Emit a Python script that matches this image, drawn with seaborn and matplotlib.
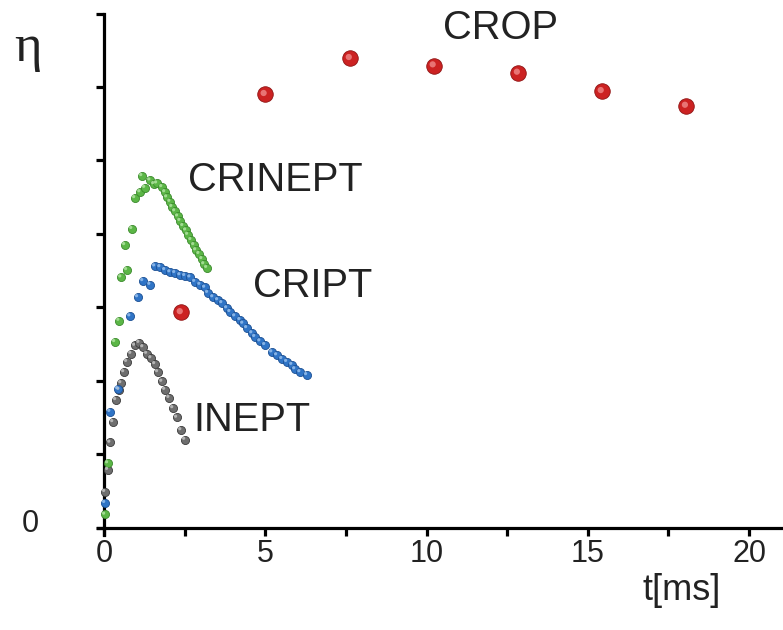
import numpy as np
import pandas as pd
import seaborn as sns
import matplotlib.pyplot as plt
from matplotlib.transforms import ScaledTranslation

# t in ms, eta in tick units (0..7)
inept_t = [0.03, 0.12, 0.19, 0.28, 0.37, 0.47, 0.53, 0.62, 0.71, 0.84, 0.96, 1.09,
           1.21, 1.33, 1.46, 1.58, 1.67, 1.80, 1.89, 2.02, 2.14, 2.26, 2.39, 2.51]
inept_eta = [0.49, 0.79, 1.16, 1.44, 1.74, 1.88, 1.97, 2.12, 2.26, 2.37, 2.48, 2.52,
             2.46, 2.37, 2.31, 2.23, 2.12, 1.99, 1.88, 1.77, 1.63, 1.50, 1.33, 1.20]

cript_t = [0.03, 0.19, 0.43, 0.81, 1.05, 1.21, 1.43, 1.58, 1.74, 1.89, 2.05, 2.20,
           2.36, 2.51, 2.67, 2.82, 2.98, 3.13, 3.22, 3.38, 3.53, 3.66, 3.81, 3.91,
           4.06, 4.22, 4.31, 4.43, 4.59, 4.68, 4.84, 4.99, 5.21, 5.36, 5.52, 5.67,
           5.83, 5.92, 6.08, 6.29]
cript_eta = [0.34, 1.58, 1.89, 2.88, 3.14, 3.36, 3.31, 3.56, 3.55, 3.51, 3.48, 3.47,
             3.44, 3.43, 3.41, 3.35, 3.31, 3.27, 3.20, 3.14, 3.10, 3.06, 2.99, 2.94,
             2.88, 2.83, 2.78, 2.72, 2.65, 2.60, 2.54, 2.49, 2.39, 2.35, 2.30, 2.26,
             2.22, 2.16, 2.12, 2.08]

crinept_t = [0.03, 0.12, 0.34, 0.47, 0.53, 0.65, 0.71, 0.87, 0.96, 1.12, 1.18, 1.27,
             1.43, 1.55, 1.64, 1.80, 1.89, 1.95, 2.05, 2.11, 2.20, 2.29, 2.36, 2.45,
             2.54, 2.60, 2.70, 2.79, 2.85, 2.95, 3.04, 3.10, 3.19]
crinept_eta = [0.18, 0.88, 2.53, 2.82, 3.41, 3.85, 3.51, 4.07, 4.49, 4.57, 4.79, 4.63,
               4.73, 4.68, 4.69, 4.64, 4.57, 4.50, 4.44, 4.37, 4.31, 4.24, 4.18, 4.11,
               4.05, 3.99, 3.92, 3.85, 3.78, 3.73, 3.66, 3.59, 3.54]

crop_t = [2.39, 4.99, 7.63, 10.23, 12.84, 15.44, 18.05]
crop_eta = [2.93, 5.90, 6.39, 6.29, 6.19, 5.94, 5.74]

sns.set_theme(style='ticks')
plt.rcParams['font.family'] = ['Liberation Sans', 'DejaVu Sans']

fig = plt.figure(figsize=(7.83, 6.3), dpi=100)
ax = fig.add_axes([97.5 / 783, 1 - 535 / 630, 1 - 97.5 / 783, (535 - 13.5) / 630])

series = [
    (inept_t, inept_eta, '#6e6e6e', '#3a3a3a', '#c8c8c8', 34),
    (cript_t, cript_eta, '#2f74c6', '#1b4f93', '#9cc4f0', 34),
    (crinept_t, crinept_eta, '#5bb646', '#3b8a2c', '#b5e6a6', 34),
    (crop_t, crop_eta, '#cc2222', '#8f1414', '#f08a8a', 125),
]

shift = ScaledTranslation(-1.3 / 100, 1.3 / 100, fig.dpi_scale_trans)
for t, eta, col, edge, hi, size in series:
    df = pd.DataFrame({'t': t, 'eta': eta})
    sns.scatterplot(data=df, x='t', y='eta', ax=ax, color=col, s=size,
                    edgecolor=edge, linewidth=0.6, zorder=3)
    sns.scatterplot(data=df, x='t', y='eta', ax=ax, color=hi, s=size * 0.16,
                    edgecolor='none', linewidth=0, zorder=4, alpha=0.8)
    ax.collections[-1].set_offset_transform(ax.transData + shift)

ax.set_xlim(-0.2, 21.05)
ax.set_ylim(-0.1, 7)
ax.spines['left'].set_position(('data', 0))
ax.spines['bottom'].set_position(('data', 0))
ax.spines['right'].set_visible(False)
ax.spines['top'].set_visible(False)
for sp in ('left', 'bottom'):
    ax.spines[sp].set_linewidth(2.3)
    ax.spines[sp].set_color('black')

ax.set_xticks([0, 5, 10, 15, 20])
ax.set_xticks([2.5, 7.5, 12.5, 17.5], minor=True)
ax.set_yticks(range(8))
ax.set_yticklabels([])
ax.tick_params(axis='both', which='both', length=6, width=2.3, color='black',
               direction='out')
ax.tick_params(axis='x', labelsize=22, pad=2, labelcolor='#222222')
ax.set_xlabel('')
ax.set_ylabel('')

fs = 28.7
ax.text(10.51, 6.80, 'CROP', fontsize=fs, va='center', ha='left', color='#222222')
ax.text(2.60, 4.73, 'CRINEPT', fontsize=fs, va='center', ha='left', color='#222222')
ax.text(4.62, 3.29, 'CRIPT', fontsize=fs, va='center', ha='left', color='#222222')
ax.text(2.76, 1.47, 'INEPT', fontsize=fs, va='center', ha='left', color='#222222')

fig.text(682 / 783, 1 - 590 / 630, 't[ms]', fontsize=26, ha='center', va='center',
         color='#222222')
fig.text(28 / 783, 1 - 48 / 630, 'η', fontsize=38, ha='center', va='center',
         color='#222222', family=['Liberation Serif', 'DejaVu Serif'])
fig.text(30 / 783, 1 - 524 / 630, '0', fontsize=22, ha='center', va='center',
         color='#222222')

fig.savefig('out.png', dpi=100)
